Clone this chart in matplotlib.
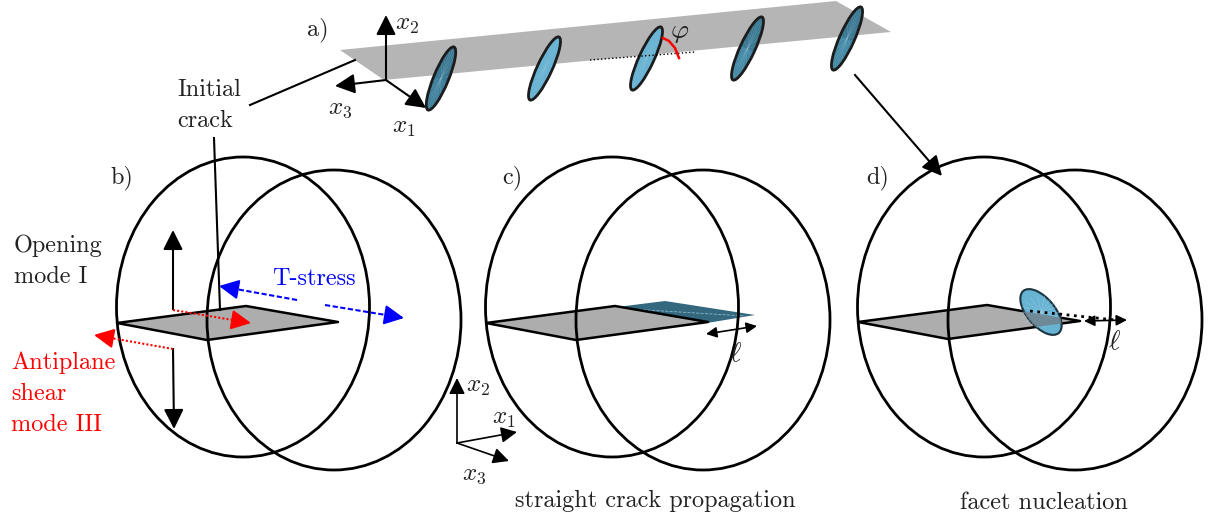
import numpy as np
import matplotlib
matplotlib.use('Agg')
import matplotlib.pyplot as plt
from matplotlib.patches import Ellipse, Polygon

plt.rcParams['font.family'] = ['cmr10', 'DejaVu Serif']
plt.rcParams['mathtext.fontset'] = 'cm'
plt.rcParams['axes.unicode_minus'] = False

#################SCHEMATIC GEOMETRY (image pixels)##########
sphere_left = [117, 486, 858]
sphere_right = [207, 576, 948]
plane = [(340, 50), (836, 1), (891, 32), (384, 80)]
crack_b = [(117, 323), (246, 306), (338, 322), (207, 340)]
crack_c = [(486, 323), (615, 306), (708, 322), (576, 340)]
crack_d = [(858, 322), (987, 305), (1080, 321), (948, 339)]
grown_c = [(617, 307), (665, 301), (755, 315), (707, 323)]
disk_top = [(454, 47), (559, 37), (661, 27), (762, 17), (861, 7)]
disk_bottom = [(428, 110), (530, 100), (632, 90), (733, 80), (833, 70)]
disk_upper_col = ['#3a7690', '#67b3d3', '#67b3d3', '#3a7690', '#3a7690']
disk_lower_col = ['#3f7f9a', '#67b3d3', '#67b3d3', '#4488a4', '#4488a4']

#(start, end, colour, linestyle, linewidth, head size)
dots = (0, (1, 1))
dashes = (0, (2.5, 1.2))
arrows = [((386, 80), (386, 15), 'k', '-', 1.5, 30),
          ((386, 80), (335, 86), 'k', '-', 1.5, 30),
          ((386, 80), (426, 108), 'k', '-', 1.5, 30),
          ((855, 75), (942, 176), 'k', '-', 1.5, 30),
          ((173, 309), (173, 230), 'k', '-', 1.5, 30),
          ((173, 349), (174, 429), 'k', '-', 1.5, 30),
          ((173, 310), (251, 323), 'red', dots, 1.5, 30),
          ((173, 349), (94, 335), 'red', dots, 1.5, 30),
          ((297, 300), (219, 286), 'blue', dashes, 1.5, 30),
          ((325, 305), (404, 318), 'blue', dashes, 1.5, 30),
          ((457, 443), (457, 378), 'k', '-', 1.2, 24),
          ((457, 443), (517, 432), 'k', '-', 1.2, 24),
          ((457, 443), (509, 461), 'k', '-', 1.2, 24)]
double_arrows = [((706, 334), (757, 326)), ((1084, 321), (1127, 320))]
leaders = [((250, 105), (355, 60)), ((214, 138), (220, 310))]

#(x, y, string, colour, size)
labels = [(307, 35, 'a)', '#222222', 17.5), (395, 30, r'$x_2$', '#222222', 18),
          (328, 114, r'$x_3$', '#222222', 18), (392, 133, r'$x_1$', '#222222', 18),
          (177, 96, 'Initial', '#222222', 17.5), (177, 127, 'crack', '#222222', 17.5),
          (110, 183, 'b)', '#222222', 17.5), (502, 183, 'c)', '#222222', 17.5),
          (866, 183, 'd)', '#222222', 17.5), (14, 252, 'Opening', '#222222', 17.5),
          (14, 283, 'mode I', '#222222', 17.5), (272, 285, 'T-stress', 'blue', 17.5),
          (11, 369, 'Antiplane', 'red', 17.5), (11, 400, 'shear', 'red', 17.5),
          (11, 431, 'mode III', 'red', 17.5), (466, 392, r'$x_2$', '#222222', 18),
          (492, 424, r'$x_1$', '#222222', 18), (462, 480, r'$x_3$', '#222222', 18),
          (670, 38, r'$\varphi$', '#222222', 20), (729, 361, r'$\ell$', '#222222', 20),
          (1108, 349, r'$\ell$', '#222222', 20),
          (515, 507, 'straight crack propagation', '#222222', 17.5),
          (960, 509, 'facet nucleation', '#222222', 17.5)]

fig = plt.figure(figsize=(12.08, 5.19), dpi=100)
ax = fig.add_axes([0, 0, 1, 1])
ax.set_xlim(0, 1208)
ax.set_ylim(519, 0)
ax.axis('off')

###################FADE PLANE AND DISKS#####################
ax.add_patch(Polygon(plane, closed=True, fc='#b5b5b5', ec='none', zorder=1))
for i in range(len(disk_top)):
    top = np.array(disk_top[i])
    bot = np.array(disk_bottom[i])
    mid = (top + bot) / 2
    d = top - bot
    length = np.hypot(d[0], d[1])
    angle = np.degrees(np.arctan2(d[1], d[0]))
    u = d / length
    n = np.array([-u[1], u[0]])
    ax.add_patch(Ellipse(mid, length, 15, angle=angle, fc=disk_upper_col[i], ec='none', zorder=3))
    lower = Ellipse(mid, length, 15, angle=angle, fc=disk_lower_col[i], ec='none', zorder=3.1)
    ax.add_patch(lower)
    half = Polygon([mid + n * 20, mid - n * 20, bot - n * 20, bot + n * 20], closed=True,
                   transform=ax.transData)
    lower.set_clip_path(half)
    for a in np.radians(np.arange(0, 360, 20)):
        p = mid + u * np.cos(a) * length * 0.45 + n * np.sin(a) * 6.5
        ax.plot([mid[0], p[0]], [mid[1], p[1]], color='#9cc9dc', lw=0.3, alpha=0.4, zorder=3.2)
    ax.add_patch(Ellipse(mid, length, 15, angle=angle, fc='none', ec='#1c1c1c', lw=2, zorder=3.5))

ax.plot([590, 695], [60, 52], color='k', ls=':', lw=1, zorder=4)
ax.plot([663, 669, 675, 679], [38, 41, 48, 58], color='red', lw=1.8, zorder=4)

###################SPHERES#####################
for x0 in sphere_left:
    ax.add_patch(Ellipse((x0 + 126, 307), 253, 300, fc='none', ec='k', lw=2, zorder=6))
for x0 in sphere_right:
    ax.add_patch(Ellipse((x0 + 127, 320), 254, 300, fc='none', ec='k', lw=2, zorder=6))

###################CRACKS#####################
ax.add_patch(Polygon(grown_c, closed=True, fc='#33687f', ec='none', zorder=2))
ax.plot([630, 745], [309, 316], color='#8fb8c9', lw=0.6, ls='--', zorder=2.1)
for crack in [crack_b, crack_c, crack_d]:
    ax.add_patch(Polygon(crack, closed=True, fc='#adadad', ec='k', lw=1.8, joinstyle='round', zorder=2.5))

###################FACET IN d)#####################
ax.add_patch(Ellipse((1041, 312), 55, 28, angle=50, fc='#67b3d3', ec='#1c3440', lw=1.5, zorder=3))
for a in np.radians(np.arange(0, 360, 20)):
    ax.plot([1041, 1041 + 20 * np.cos(a)], [312, 312 + 20 * np.sin(a) * 0.8],
            color='#a9d4e6', lw=0.4, alpha=0.6, zorder=3.1)
front = Polygon(crack_d, closed=True, fc='#6f7f88', ec='none', alpha=0.8, zorder=3.2)
ax.add_patch(front)
front.set_clip_path(Ellipse((1041, 312), 55, 28, angle=50, transform=ax.transData))
ax.plot([1030, 1125], [311, 321], color='k', ls=':', lw=2, zorder=7)

###################ARROWS#####################
for start, end, col, ls, lw, head in arrows:
    s = np.array(start, dtype=float)
    e = np.array(end, dtype=float)
    # line drawn by itself so the dotted style stays off the head
    tip = e - (e - s) / np.hypot(*(e - s)) * 10
    ax.plot([s[0], tip[0]], [s[1], tip[1]], color=col, ls=ls, lw=lw, zorder=8)
    ax.annotate('', xy=end, xytext=tuple(tip), zorder=8,
                arrowprops=dict(arrowstyle='-|>', color=col, lw=lw, mutation_scale=head,
                                shrinkA=0, shrinkB=0))
for start, end in double_arrows:
    ax.annotate('', xy=end, xytext=start, zorder=8,
                arrowprops=dict(arrowstyle='<|-|>', color='k', lw=1.2, mutation_scale=16,
                                shrinkA=0, shrinkB=0))
for start, end in leaders:
    ax.plot([start[0], end[0]], [start[1], end[1]], color='k', lw=1.5, zorder=5)

for x, y, s, col, size in labels:
    ax.text(x, y, s, color=col, fontsize=size, ha='left', va='baseline', zorder=9)

fig.savefig('out.png', dpi=100)
